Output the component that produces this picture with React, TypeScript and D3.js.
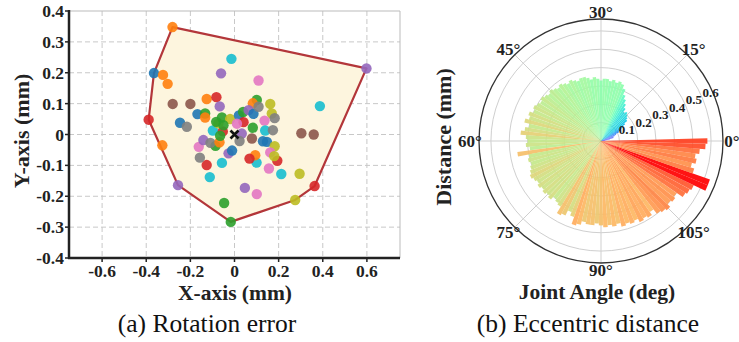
// @ts-nocheck
import React from 'react';
import * as d3 from 'd3';

// ---- (a) rotation error scatter ----
const errX = [
  -0.281, 0.598, -0.365, -0.324, -0.303, -0.014, -0.061, 0.109, -0.389, -0.28,
  -0.2, -0.126, -0.082, -0.067, 0.387, -0.168, -0.133, -0.133, -0.247, -0.216,
  -0.327, -0.256, -0.047, -0.017, 0.275, 0.363, 0.295, 0.212, 0.303, 0.359,
  0.101, 0.047, -0.112, -0.126, -0.057, -0.157, -0.162, -0.141, -0.086, -0.109,
  -0.068, -0.098, -0.053, -0.065, -0.073, -0.057, -0.02, 0.02, 0.039, 0.101,
  0.083, 0.064, 0.086, 0.109, 0.162, 0.169, 0.182, 0.136, 0.041, 0.011,
  0.033, 0.023, 0.083, 0.079, 0.139, 0.174, 0.129, 0.147, 0.182, 0.162,
  0.194, 0.156, 0.18, 0.1, 0.094, 0.068, -0.027, -0.011, -0.083, -0.05,
];
const errY = [
  0.348, 0.214, 0.199, 0.193, 0.164, 0.245, 0.198, 0.175, 0.048, 0.099,
  0.099, 0.115, 0.121, 0.091, 0.092, 0.066, 0.068, 0.055, 0.038, 0.025,
  -0.035, -0.164, -0.222, -0.283, -0.212, -0.167, -0.127, -0.128, 0.004, 0.0,
  -0.193, -0.173, -0.138, -0.099, -0.092, -0.075, -0.04, -0.018, -0.037, -0.027,
  -0.025, 0.013, 0.01, -0.004, 0.036, 0.055, 0.05, 0.062, 0.073, 0.112,
  0.101, 0.079, 0.067, 0.09, 0.099, 0.068, 0.053, 0.045, 0.04, 0.035,
  0.003, -0.021, 0.022, -0.013, 0.013, 0.014, -0.022, -0.024, -0.038, -0.058,
  -0.085, -0.11, -0.07, -0.091, -0.067, -0.078, -0.061, -0.052, 0.041, 0.03,
];
// index into tab10
const errColor = [
  1, 4, 0, 1, 1, 9, 4, 6, 3, 5,
  5, 1, 3, 4, 9, 0, 2, 1, 0, 7,
  1, 4, 2, 2, 8, 3, 8, 9, 5, 5,
  6, 4, 9, 3, 9, 7, 6, 4, 2, 7,
  1, 9, 3, 2, 8, 2, 8, 0, 2, 2,
  1, 4, 0, 7, 8, 8, 7, 6, 3, 6,
  4, 7, 2, 5, 9, 7, 0, 0, 8, 6,
  3, 6, 8, 9, 1, 3, 4, 0, 2, 2,
];
const xTicks = [-0.6, -0.4, -0.2, 0, 0.2, 0.4, 0.6];
const yTicks = [-0.4, -0.3, -0.2, -0.1, 0, 0.1, 0.2, 0.3, 0.4];

// ---- (b) eccentric distance polar bars, one bar per joint degree ----
const jointStep = 1;
const jointDistance = [
  0.58, 0.02, 0.02, 0.03, 0.05, 0.07, 0.07, 0.08, 0.09, 0.11,
  0.12, 0.14, 0.16, 0.18, 0.19, 0.2, 0.21, 0.2, 0.22, 0.24,
  0.26, 0.28, 0.31, 0.33, 0.34, 0.33, 0.34, 0.33, 0.34, 0.34,
  0.33, 0.34, 0.35, 0.34, 0.35, 0.36, 0.36, 0.35, 0.36, 0.37,
  0.36, 0.37, 0.38, 0.37, 0.38, 0.39, 0.38, 0.39, 0.4, 0.39,
  0.4, 0.41, 0.4, 0.42, 0.41, 0.43, 0.4, 0.42, 0.44, 0.41,
  0.4, 0.41, 0.39, 0.46, 0.4, 0.41, 0.4, 0.41, 0.42, 0.43,
  0.42, 0.41, 0.42, 0.41, 0.42, 0.41, 0.42, 0.4, 0.41, 0.42,
  0.46, 0.45, 0.42, 0.44, 0.48, 0.47, 0.45, 0.46, 0.46, 0.45,
  0.46, 0.47, 0.46, 0.47, 0.46, 0.48, 0.47, 0.48, 0.47, 0.49,
  0.48, 0.49, 0.47, 0.5, 0.51, 0.52, 0.5, 0.51, 0.5, 0.54,
  0.55, 0.56, 0.63, 0.63, 0.53, 0.51, 0.53, 0.52, 0.54, 0.57,
];
const angleTicks = [0, 15, 30, 45, 60, 75, 90, 105];
const radialTicks = [0.1, 0.2, 0.3, 0.4, 0.5, 0.6];

const serif = '"Liberation Serif", "Times New Roman", serif';

// matplotlib "rainbow"
const rainbow = (t) => {
  const c = (v) => Math.round(255 * Math.max(0, Math.min(1, v)));
  return `rgb(${c(Math.abs(2 * t - 0.5))},${c(Math.sin(Math.PI * t))},${c(Math.cos((Math.PI / 2) * t))})`;
};

const fmt = (v) => (Math.abs(v) < 1e-9 ? '0' : v.toFixed(1));

const Scatter = () => {
  const x = d3.scaleLinear([-0.75, 0.75], [69, 400]);
  const y = d3.scaleLinear([-0.4, 0.4], [258, 11]);
  const pts = errX.map((v, i) => [x(v), y(errY[i])]);
  const hull = d3.polygonHull(pts);
  const [x0, x1] = x.range();
  const [y0, y1] = y.range();
  const ox = x(0);
  const oy = y(0);

  return (
    <g>
      <rect x={x0} y={y1} width={x1 - x0} height={y0 - y1} fill="#fff" />
      {xTicks.map((t) => (
        <line key={'gx' + t} x1={x(t)} x2={x(t)} y1={y1} y2={y0} stroke="#c8c8c8" strokeDasharray="5,3" />
      ))}
      {yTicks.slice(1, -1).map((t) => (
        <line key={'gy' + t} x1={x0} x2={x1} y1={y(t)} y2={y(t)} stroke="#c8c8c8" strokeDasharray="5,3" />
      ))}
      <path d={'M' + hull.join('L') + 'Z'} fill="#fdf5de" stroke="#b3363a" strokeWidth={2.2} strokeLinejoin="round" />
      {pts.map((p, i) => (
        <circle key={i} cx={p[0]} cy={p[1]} r={5.2} fill={d3.schemeCategory10[errColor[i]]} fillOpacity={0.9} />
      ))}
      <path d={`M${ox - 4},${oy - 4}L${ox + 4},${oy + 4}M${ox - 4},${oy + 4}L${ox + 4},${oy - 4}`} stroke="#111" strokeWidth={2.6} />
      {/* spines */}
      <line x1={x0} x2={x1} y1={y1} y2={y1} stroke="#bbb" strokeWidth={1} />
      <line x1={x1} x2={x1} y1={y1} y2={y0} stroke="#bbb" strokeWidth={1} />
      <line x1={x0} x2={x0} y1={y1 - 1} y2={y0 + 1} stroke="#222" strokeWidth={2.5} />
      <line x1={x0 - 1} x2={x1} y1={y0} y2={y0} stroke="#222" strokeWidth={2.5} />
      {yTicks.map((t) => (
        <g key={'ty' + t}>
          <line x1={x0 - 4} x2={x0} y1={y(t)} y2={y(t)} stroke="#222" strokeWidth={1.5} />
          <text x={x0 - 5} y={y(t) + 6} textAnchor="end" fontFamily={serif} fontWeight="bold" fontSize={17.5} fill="#222">{fmt(t)}</text>
        </g>
      ))}
      {xTicks.map((t) => (
        <g key={'tx' + t}>
          <line x1={x(t)} x2={x(t)} y1={y0} y2={y0 + 4} stroke="#222" strokeWidth={1.5} />
          <text x={x(t)} y={277} textAnchor="middle" fontFamily={serif} fontWeight="bold" fontSize={17.5} fill="#222">{fmt(t)}</text>
        </g>
      ))}
      <text x={235} y={300} textAnchor="middle" fontFamily={serif} fontWeight="bold" fontSize={21.5} fill="#222">X-axis (mm)</text>
      <text transform="translate(29,131) rotate(-90)" textAnchor="middle" fontFamily={serif} fontWeight="bold" fontSize={22} fill="#222">Y-axis (mm)</text>
      <text x={207} y={332} textAnchor="middle" fontFamily={serif} fontSize={25.5} fill="#111">(a) Rotation error</text>
    </g>
  );
};

const Polar = () => {
  const cx = 601;
  const cy = 141;
  const R = 122;
  const r = d3.scaleLinear([0, 0.665], [0, R]);
  // joint angle (0..120 deg) spread over the full circle, counter-clockwise from east
  const theta = d3.scaleLinear([0, 120], [0, 2 * Math.PI]);
  const maxV = d3.max(jointDistance);
  const arc = d3.arc();
  const halfW = (theta(jointStep) - theta(0)) / 2;

  return (
    <g>
      <g transform={`translate(${cx},${cy})`}>
        {radialTicks.map((t) => (
          <circle key={'rc' + t} r={r(t)} fill="none" stroke="#cfcfcf" strokeWidth={1} />
        ))}
        {angleTicks.map((a) => (
          <line key={'sp' + a} x1={0} y1={0} x2={R * Math.cos(theta(a))} y2={-R * Math.sin(theta(a))} stroke="#cfcfcf" strokeWidth={1} />
        ))}
        {jointDistance.map((v, i) => {
          const th = theta(i * jointStep);
          return (
            <path
              key={i}
              d={arc({ innerRadius: 0, outerRadius: r(v), startAngle: Math.PI / 2 - th - halfW, endAngle: Math.PI / 2 - th + halfW })}
              fill={rainbow(v / maxV)}
              fillOpacity={0.92}
            />
          );
        })}
        <circle r={R} fill="none" stroke="#333" strokeWidth={1.3} />
        {radialTicks.map((t) => {
          const a = (24 * Math.PI) / 180;
          const rr = r(t) + 10;
          return (
            <text key={'rl' + t} x={rr * Math.cos(a)} y={-rr * Math.sin(a)} textAnchor="middle" dominantBaseline="central" fontFamily={serif} fontWeight="bold" fontSize={13} fill="#222">{t.toFixed(1)}</text>
          );
        })}
        {angleTicks.map((a) => (
          <text key={'al' + a} x={131 * Math.cos(theta(a))} y={-129 * Math.sin(theta(a))} textAnchor="middle" dominantBaseline="central" fontFamily={serif} fontWeight="bold" fontSize={17} fill="#222">{a + '°'}</text>
        ))}
      </g>
      <text transform="translate(451,137) rotate(-90)" textAnchor="middle" fontFamily={serif} fontWeight="bold" fontSize={22} fill="#222">Distance (mm)</text>
      <text x={597} y={299} textAnchor="middle" fontFamily={serif} fontWeight="bold" fontSize={21.5} fill="#222">Joint Angle (deg)</text>
      <text x={588} y={332} textAnchor="middle" fontFamily={serif} fontSize={25.5} fill="#111">(b) Eccentric distance</text>
    </g>
  );
};

const App = () => (
  <svg width={739} height={342} style={{ position: 'absolute', left: 0, top: 0, background: '#fff' }}>
    <rect width={739} height={342} fill="#fff" />
    <Scatter />
    <Polar />
  </svg>
);

export default App;
